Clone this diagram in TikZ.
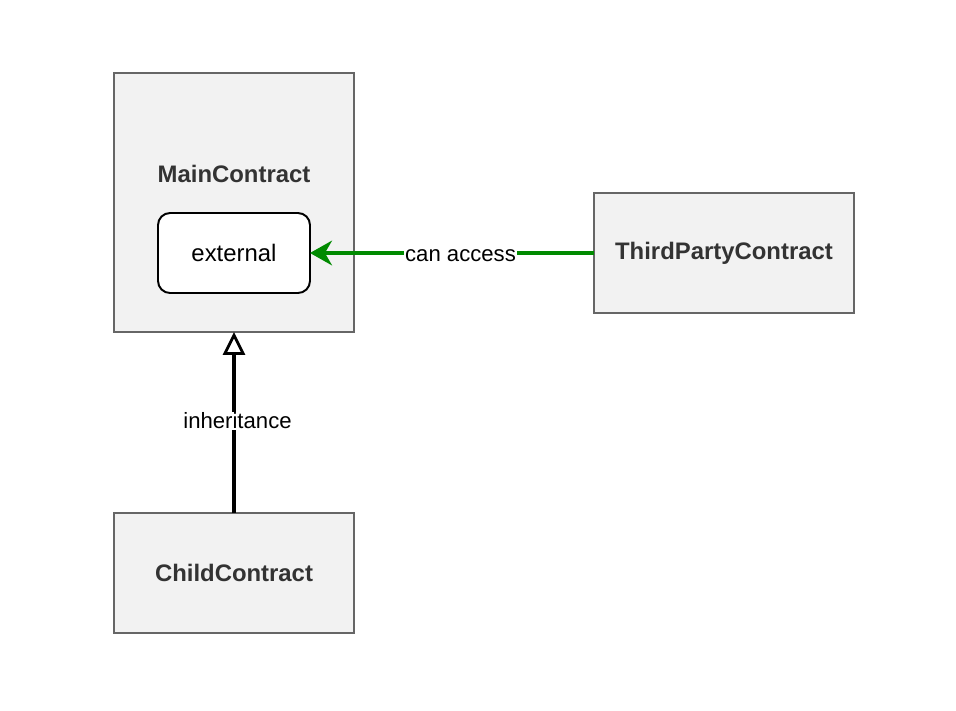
\documentclass[tikz,border=0pt]{standalone}
\usepackage{fontspec}
\setmainfont{Liberation Sans}
\usepackage{tikz}
\usetikzlibrary{arrows.meta}

\definecolor{boxfill}{HTML}{F2F2F2}
\definecolor{boxline}{HTML}{666666}
\definecolor{boxtext}{HTML}{333333}
\definecolor{accessgreen}{HTML}{008A00}

\begin{document}
\begin{tikzpicture}[x=0.02cm, y=-0.02cm, >=Stealth]
\tikzstyle{contract} = [draw=boxline, line width=1.1pt, rectangle, fill=boxfill, inner sep=0pt, outer sep=0pt, text=boxtext, font=\fontsize{13.6}{16}\selectfont\bfseries]
\tikzstyle{func} = [draw=black, line width=1.1pt, rectangle, rounded corners=0.24cm, fill=white, inner sep=0pt, outer sep=0pt, minimum width=3.04cm, minimum height=1.6cm, font=\fontsize{13.6}{16}\selectfont]
\tikzstyle{link} = [line width=2pt, font=\fontsize{12.6}{15}\selectfont]

\useasboundingbox (0,0) rectangle (956,710);

% Contracts
\node [contract, minimum width=4.8cm, minimum height=5.18cm] (MAIN) at (234,202.5) {};
\node [text=boxtext, font=\fontsize{13.6}{16}\selectfont\bfseries] (MAIN_LABEL) at (234,174) {MainContract};
\node [func] (EXTERNAL) at (234,253) {external};
\node [contract, minimum width=5.2cm, minimum height=2.4cm] (THIRD_PARTY) at (724,253) {ThirdPartyContract};
\node [contract, minimum width=4.8cm, minimum height=2.4cm] (CHILD) at (234,573) {ChildContract};

% Relations
\draw [link, accessgreen, -{Stealth[length=12.5pt, width=14pt, inset=4pt]}] (THIRD_PARTY.west) -- node[pos=0.47, yshift=-1.5pt, fill=white, text=black, inner sep=0.5pt]{can access} (EXTERNAL.east);
\draw [link, black, -{Triangle[open, length=13pt, width=12.5pt, line width=1.6pt]}] (CHILD.north) -- node[pos=0.5, xshift=2pt, yshift=1pt, fill=white, inner sep=0.5pt]{inheritance} (MAIN.south);

\end{tikzpicture}
\end{document}
